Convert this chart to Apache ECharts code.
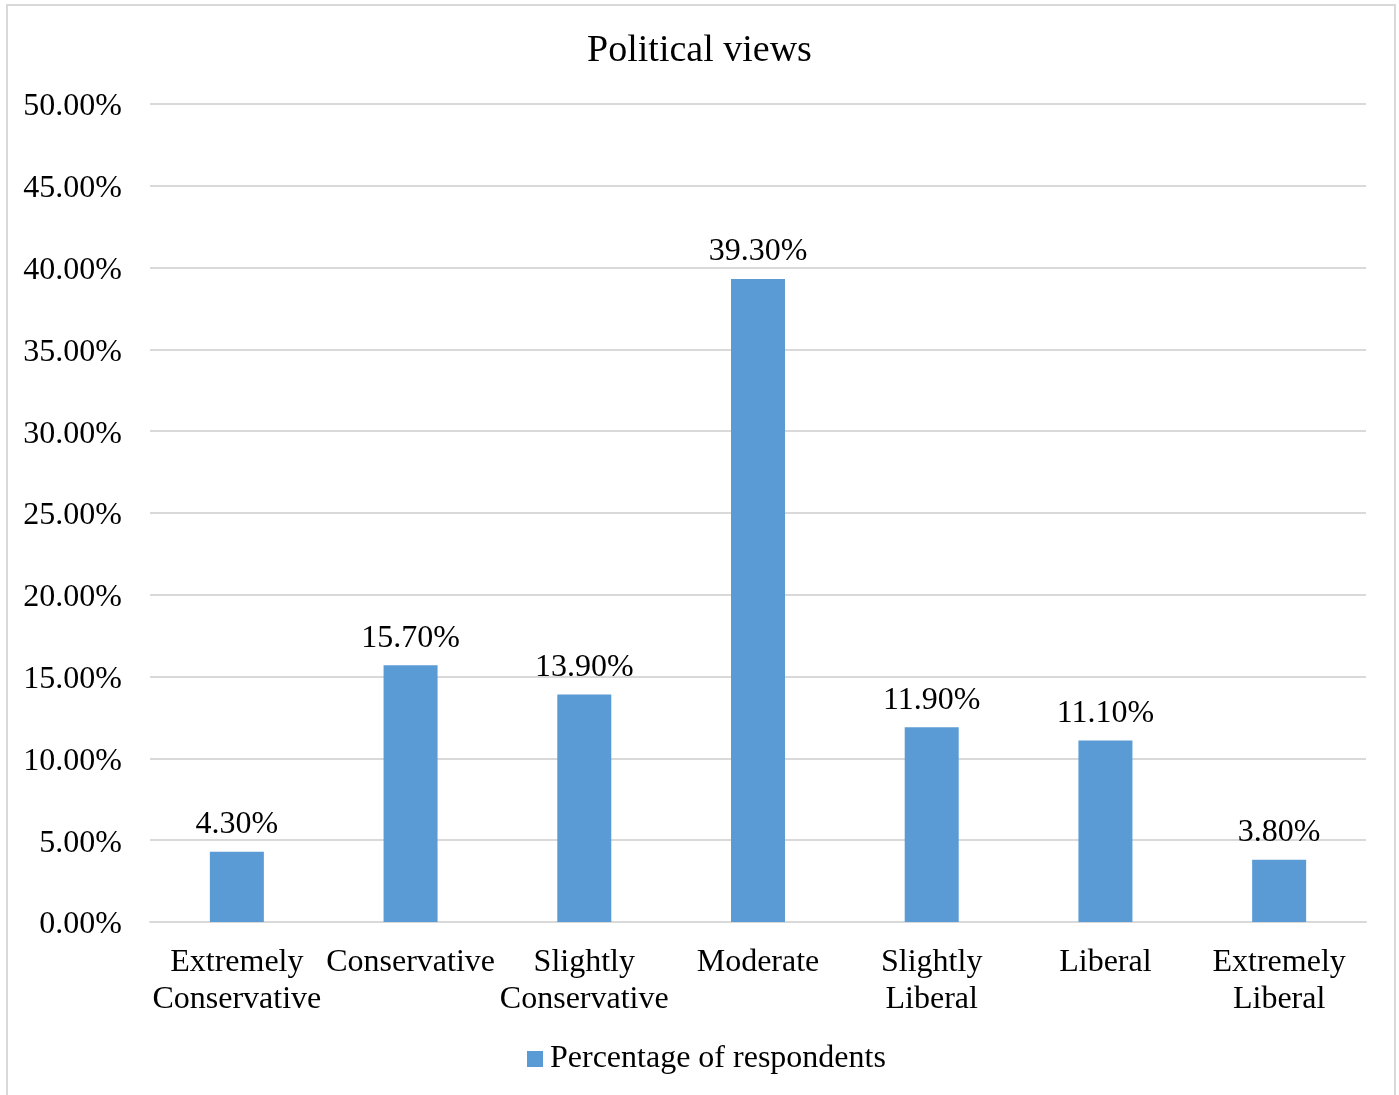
<!DOCTYPE html>
<html>
<head>
<meta charset="utf-8">
<script src="https://cdn.jsdelivr.net/npm/echarts@6/dist/echarts.min.js"></script>
<style>
html,body{margin:0;padding:0;background:#fff;}
#chart{width:1399px;height:1095px;}
</style>
</head>
<body>
<div id="chart"></div>
<script>
const categories = ["Extremely\nConservative", "Conservative", "Slightly\nConservative", "Moderate", "Slightly\nLiberal", "Liberal", "Extremely\nLiberal"];
const seriesName = "Percentage of respondents";
const values = [4.3, 15.7, 13.9, 39.3, 11.9, 11.1, 3.8];
const titleText = "Political views";

const FONT = "'Liberation Serif', 'Times New Roman', serif";
const chart = echarts.init(document.getElementById('chart'));
chart.setOption({
  animation: false,
  backgroundColor: '#ffffff',
  graphic: [{
    type: 'rect', silent: true, z: -1,
    shape: { x: 7, y: 5, width: 1388, height: 1110 },
    style: { fill: 'none', stroke: '#d9d9d9', lineWidth: 2 }
  }],
  title: {
    text: titleText, left: 'center', top: 27,
    textStyle: { fontFamily: FONT, fontSize: 38, fontWeight: 'normal', color: '#000' }
  },
  legend: {
    bottom: 15, left: 522,
    itemWidth: 16, itemHeight: 16, itemGap: 8,
    icon: 'rect',
    textStyle: { fontFamily: FONT, fontSize: 32, color: '#000', padding: [0, 0, 0, 2] },
    data: [seriesName]
  },
  grid: { left: 150, right: 33, top: 104, bottom: 173, containLabel: false },
  xAxis: {
    type: 'category', data: categories,
    axisLine: { show: true, lineStyle: { color: '#d9d9d9', width: 2 } },
    axisTick: { show: false },
    axisLabel: { fontFamily: FONT, fontSize: 32, color: '#000', margin: 22, lineHeight: 37, interval: 0 }
  },
  yAxis: {
    type: 'value', min: 0, max: 50, interval: 5,
    axisLine: { show: false }, axisTick: { show: false },
    splitLine: { lineStyle: { color: '#d9d9d9', width: 2 } },
    axisLabel: { fontFamily: FONT, fontSize: 32, color: '#000', margin: 28,
      formatter: v => '{v|' + v.toFixed(2) + '%}',
      rich: { v: { fontFamily: FONT, fontSize: 32, color: '#000', padding: [6, 0, 0, 0] } } }
  },
  series: [{
    name: seriesName, type: 'bar', data: values, barWidth: 54,
    itemStyle: { color: '#5b9bd5' },
    label: { show: true, position: 'top', distance: 11, fontFamily: FONT, fontSize: 32, color: '#000',
      formatter: p => p.value.toFixed(2) + '%' }
  }]
});
</script>
</body>
</html>
